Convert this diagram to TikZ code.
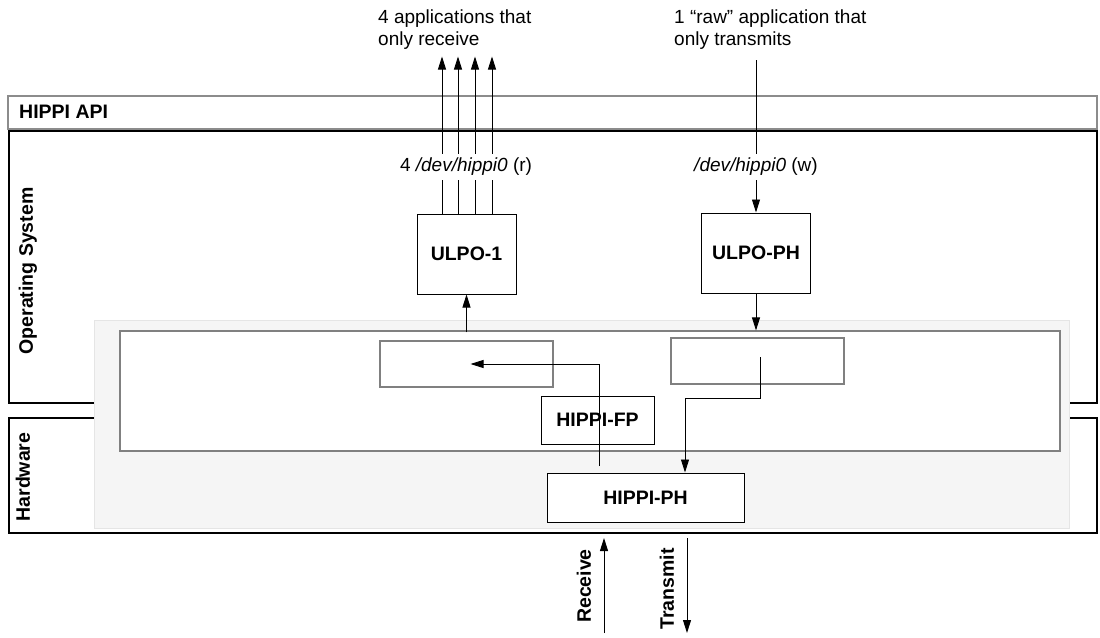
\documentclass[tikz,border=0pt]{standalone}
\usepackage{fontspec}
\setmainfont{Liberation Sans}
\usetikzlibrary{arrows.meta}
\usetikzlibrary{positioning}

\begin{document}
\begin{tikzpicture}[x=1pt,y=-1pt,
        font=\fontsize{19}{22}\selectfont,
        layer/.style={draw,line width=2.5pt},
        title/.style={font=\fontsize{19.5}{22}\selectfont\bfseries,inner sep=0pt},
        module/.style={draw,line width=1pt,fill=white,inner sep=0pt,
            font=\fontsize{19.5}{22}\selectfont\bfseries},
        buffer/.style={draw=black!50,line width=1.2pt,fill=white,inner sep=0pt},
        flow/.style={line width=0.9pt,-{Triangle[length=13pt,width=8pt]}}]
        \useasboundingbox (0,0) rectangle (1100,637);

        % layers
        \draw[layer,draw=black!45] (8,96) rectangle (1097,129);
        \draw[layer] (9,131) rectangle (1097,403);
        \draw[layer] (9,418) rectangle (1097,533);
        \node[title,anchor=west] (api) at (19,112) {HIPPI API};
        \node[title,rotate=90] (os) at (28,271) {Operating System};
        \node[title,rotate=90] (hw) at (23,477) {Hardware};

        % adapter board
        \node[fill=black!4,draw=black!10,minimum width=975pt,minimum height=208pt,inner sep=0pt] (board) at (581.5,424) {};
        \node[buffer,minimum width=940pt,minimum height=120pt] (fp) at (590,391) {};
        \node[buffer,minimum width=173pt,minimum height=46pt] (rxbuf) at (466.5,364) {};
        \node[buffer,minimum width=173pt,minimum height=46pt] (txbuf) at (757.5,361) {};
        \node[module,minimum width=113pt,minimum height=48pt] (hfp) at (597.5,420) {HIPPI-FP};
        \node[module,minimum width=197pt,minimum height=49pt] (hph) at (645.5,497.5) {HIPPI-PH};

        % upper layer protocols
        \node[module,minimum width=99pt,minimum height=80pt] (ulpo1) at (466.5,254) {ULPO-1};
        \node[module,minimum width=109pt,minimum height=80pt] (ulpoph) at (756,253) {ULPO-PH};

        % applications
        \node[anchor=north west,align=left,inner sep=0pt] (rxapps) at (378,10) {4 applications that\\only receive};
        \node[anchor=north west,align=left,inner sep=0pt] (txapps) at (674,10) {1 “raw” application that\\only transmits};
        \coordinate (txsrc) at (756,60);

        \foreach \dx in {-24.5,-8.5,8.5,25.5}
            \draw[flow] ([xshift=\dx pt]ulpo1.north) -- ++(0,-157);
        \draw[flow] (txsrc) -- (ulpoph.north);
        \node[fill=white,inner xsep=2pt,inner ysep=4pt] (rxdev) at (466,167) {4 \textit{/dev/hippi0} (r)};
        \node[fill=white,inner xsep=2pt,inner ysep=4pt] (txdev) at (756,167) {\textit{/dev/hippi0} (w)};

        \draw[flow] (ulpoph.south) -- (ulpoph.south |- fp.north);
        \draw[flow] ([yshift=-2pt]ulpo1.south |- fp.north) -- (ulpo1.south);

        % data paths on the board
        \coordinate (rxup) at (599,466);
        \coordinate (txdown) at (760,357);
        \draw[flow] (rxup) |- ([xshift=4pt]rxbuf.center);
        \draw[flow] (txdown) -- (760,398) -| ([xshift=39.5pt]hph.north);

        % link
        \coordinate (rxin) at (604,633);
        \coordinate (rxtop) at (604,538);
        \coordinate (txbot) at (687,538);
        \coordinate (txout) at (687,633);
        \draw[flow] (rxin) -- (rxtop);
        \draw[flow] (txbot) -- (txout);
        \node[title,rotate=90] (rx) at (584,586) {Receive};
        \node[title,rotate=90] (tx) at (667,589) {Transmit};
\end{tikzpicture}
\end{document}
